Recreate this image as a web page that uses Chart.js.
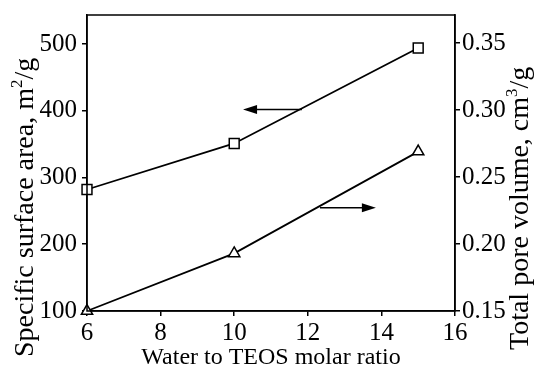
<!DOCTYPE html>
<html><head><meta charset="utf-8">
<script src="https://cdn.jsdelivr.net/npm/chart.js@4/dist/chart.umd.min.js"></script>
<style>html,body{margin:0;padding:0;background:#fff}#w{width:536px;height:368px}</style>
</head><body><div id="w"><canvas id="c" width="536" height="368"></canvas></div>
<script>
const waterRatio = [6, 10, 15];
const surfaceArea = [282, 351, 494];
const poreVolume = [0.150, 0.193, 0.269];
const xTicks = [6, 8, 10, 12, 14, 16];
const leftTicks = [100, 200, 300, 400, 500];
const rightTicks = [0.15, 0.20, 0.25, 0.30, 0.35];
const arrowLeft = {axis: 'yL', x0: 11.84, x1: 10.24, y: 402};
const arrowRight = {axis: 'yR', x0: 12.33, x1: 13.85, y: 0.227};

const FONT = '"Liberation Serif", "Times New Roman", serif';

function drawSup(ctx, parts, size) {
  let x = 0;
  for (const [t, sup] of parts) {
    ctx.font = (sup ? Math.round(size * 0.62) : size) + 'px ' + FONT;
    ctx.fillText(t, x, sup ? -size * 0.4 : 0);
    x += ctx.measureText(t).width;
  }
  return x;
}
function vTitle(ctx, parts, size, baseX, yBottom) {
  ctx.save();
  ctx.translate(baseX, yBottom);
  ctx.rotate(-Math.PI / 2);
  drawSup(ctx, parts, size);
  ctx.restore();
}

const overlay = {
  id: 'overlay',
  afterDraw(chart) {
    const ctx = chart.ctx;
    const a = chart.chartArea;
    const xs = chart.scales.x;
    ctx.save();
    ctx.strokeStyle = '#000';
    ctx.lineWidth = 1.5;
    ctx.strokeRect(a.left, a.top, a.right - a.left, a.bottom - a.top);
    ctx.fillStyle = '#000';
    for (const ar of [arrowLeft, arrowRight]) {
      const ys = chart.scales[ar.axis];
      const x0 = xs.getPixelForValue(ar.x0), x1 = xs.getPixelForValue(ar.x1);
      const y = ys.getPixelForValue(ar.y);
      const dir = Math.sign(x1 - x0);
      ctx.beginPath();
      ctx.moveTo(x0, y); ctx.lineTo(x1 - dir * 10, y);
      ctx.lineWidth = 1.5; ctx.stroke();
      ctx.beginPath();
      ctx.moveTo(x1, y);
      ctx.lineTo(x1 - dir * 14, y - 4.5);
      ctx.lineTo(x1 - dir * 14, y + 4.5);
      ctx.closePath(); ctx.fill();
    }
    ctx.fillStyle = '#000';
    ctx.textBaseline = 'alphabetic';
    ctx.textAlign = 'left';
    ctx.font = '24px ' + FONT;
    const bt = 'Water to TEOS molar ratio';
    const bw = ctx.measureText(bt).width;
    ctx.fillText(bt, (a.left + a.right) / 2 - bw / 2, 364);
    vTitle(ctx, [['Specific surface area, m', false], ['2', true], ['/g', false]], 28, 33, 357);
    vTitle(ctx, [['Total pore volume, cm', false], ['3', true], ['/g', false]], 28, 528, 350);
    ctx.restore();
  }
};

const tickFont = {family: FONT, size: 25, lineHeight: 0.6};
new Chart(document.getElementById('c'), {
  type: 'line',
  data: {
    datasets: [
      {data: waterRatio.map((x, i) => ({x, y: surfaceArea[i]})), yAxisID: 'yL',
       borderColor: '#000', borderWidth: 1.8, pointStyle: 'rect', pointRadius: 7,
       pointBackgroundColor: '#fff', pointBorderColor: '#000', pointBorderWidth: 1.5, clip: false},
      {data: waterRatio.map((x, i) => ({x, y: poreVolume[i]})), yAxisID: 'yR',
       borderColor: '#000', borderWidth: 1.8, pointStyle: 'triangle', pointRadius: 6.5,
       pointBackgroundColor: '#fff', pointBorderColor: '#000', pointBorderWidth: 1.5, clip: false}
    ]
  },
  options: {
    responsive: false, animation: false, devicePixelRatio: 1,
    layout: {padding: {top: 15, left: 0, right: 0, bottom: 0}},
    plugins: {legend: {display: false}, tooltip: {enabled: false}},
    scales: {
      x: {type: 'linear', min: 6, max: 16,
        afterBuildTicks: s => { s.ticks = xTicks.map(v => ({value: v})); },
        afterFit: s => { s.height = 57; },
        grid: {drawOnChartArea: false, drawTicks: true, tickLength: 5, color: '#000', lineWidth: 1.5},
        border: {display: true, color: '#000', width: 1.5},
        ticks: {font: {family: FONT, size: 25}, color: '#000', padding: 2, maxRotation: 0}},
      yL: {type: 'linear', position: 'left', min: 100, max: 543.4,
        afterBuildTicks: s => { s.ticks = leftTicks.map(v => ({value: v})); },
        afterFit: s => { s.width = 87; },
        grid: {drawOnChartArea: false, drawTicks: true, tickLength: 5, color: '#000', lineWidth: 1.5},
        border: {display: true, color: '#000', width: 1.5},
        ticks: {font: tickFont, color: '#000', padding: 5}},
      yR: {type: 'linear', position: 'right', min: 0.15, max: 0.371,
        afterBuildTicks: s => { s.ticks = rightTicks.map(v => ({value: v})); },
        afterFit: s => { s.width = 81; },
        grid: {drawOnChartArea: false, drawTicks: true, tickLength: 5, color: '#000', lineWidth: 1.5},
        border: {display: true, color: '#000', width: 1.5},
        ticks: {font: tickFont, color: '#000', padding: 2, callback: v => v.toFixed(2)}}
    }
  },
  plugins: [overlay]
});
</script></body></html>
